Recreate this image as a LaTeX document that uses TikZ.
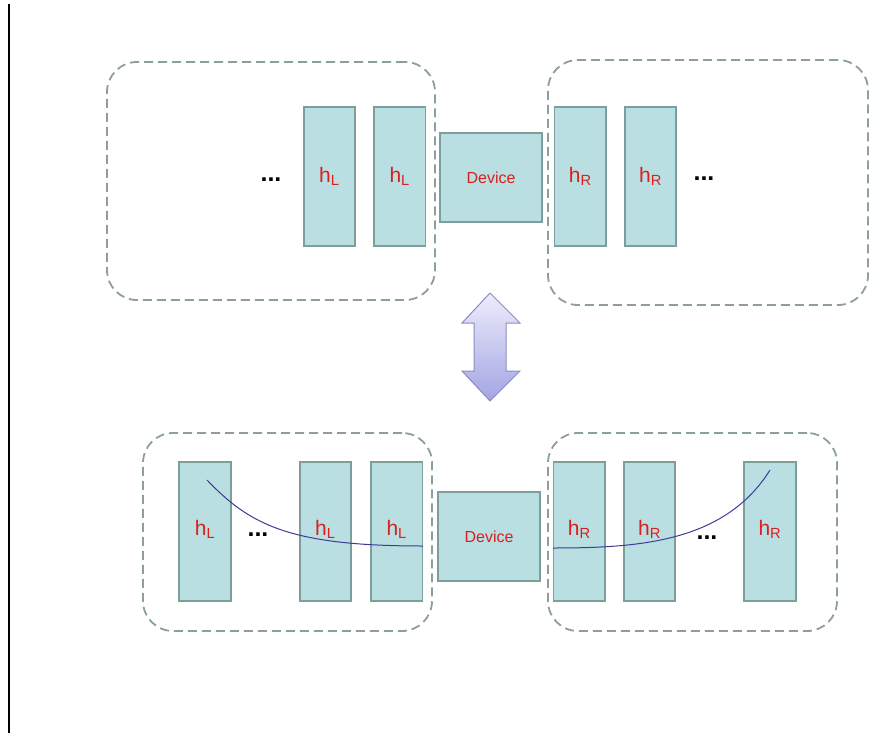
\documentclass[tikz,border=0pt]{standalone}
\usepackage{fontspec}
\setmainfont{Liberation Sans}
\usepackage{xcolor}
\usepackage{tikz}
\usetikzlibrary{positioning}
\definecolor{boxfill}{HTML}{B9DFE2}
\definecolor{boxline}{HTML}{7E9E9C}
\definecolor{grpline}{HTML}{8D9E9E}
\definecolor{labred}{HTML}{D9201E}
\definecolor{curveblue}{HTML}{3C3C96}
\definecolor{arrtop}{HTML}{EDEDFC}
\definecolor{arrbot}{HTML}{A4A4E4}
\definecolor{arrline}{HTML}{8C8CC4}
\newcommand{\labL}{h\textsubscript{L}}
\newcommand{\labR}{h\textsubscript{R}}
\tikzset{
  hbox/.style={draw=boxline, fill=boxfill, line width=1.8pt, minimum width=51.5pt, minimum height=138.5pt, inner sep=0pt, text=labred, font=\fontsize{21}{25}\selectfont},
  devbox/.style={draw=boxline, fill=boxfill, line width=1.8pt, minimum width=101.5pt, minimum height=88.5pt, inner sep=0pt, text=labred, font=\fontsize{16}{19}\selectfont},
  groupbox/.style={draw=grpline, line width=1.8pt, dash pattern=on 9pt off 5pt, rounded corners=30pt, inner sep=0pt},
  dots/.style={inner sep=0pt, font=\bfseries\fontsize{25}{28}\selectfont},
  chainline/.style={draw=curveblue, line width=1pt},
  swaparrow/.style={draw=arrline, line width=1pt, top color=arrtop, bottom color=arrbot}
}
\begin{document}
\begin{tikzpicture}[x=1pt, y=-1pt, node distance=17pt]
\useasboundingbox (0,0) rectangle (870,733);

\draw[line width=1.3pt] (9,4) -- (9,733);

% Top row
\node[groupbox, minimum width=328pt, minimum height=238pt] (tlgrp) at (271,181) {};
\node[groupbox, minimum width=320pt, minimum height=245pt] (trgrp) at (708,182.5) {};
\node[devbox] (topdev) at (491,177.5) {Device};
\node[hbox, left=13pt of topdev, yshift=1pt] (tl2) {\labL};
\node[hbox, left=of tl2] (tl1) {\labL};
\node[hbox, right=11pt of topdev, yshift=1pt] (tr1) {\labR};
\node[hbox, right=of tr1] (tr2) {\labR};
\node[dots] (tldots) at (271,180) {...};
\node[dots] (trdots) at (704,179) {...};

% Swap arrow
\draw[swaparrow] (462,323) -- (490,293) -- (520,323) -- (506,323) -- (506,371)
  -- (520,371) -- (490,401) -- (462,371) -- (474,371) -- (474,323) -- cycle;

% Bottom row
\node[groupbox, minimum width=289pt, minimum height=198pt] (blgrp) at (287.5,532) {};
\node[groupbox, minimum width=289pt, minimum height=198pt] (brgrp) at (692.5,532) {};
\node[devbox] (botdev) at (489,536.5) {Device};
\node[hbox, left=14pt of botdev, yshift=5pt] (bl3) {\raisebox{8pt}{\labL}};
\node[hbox, left=18pt of bl3] (bl2) {\raisebox{8pt}{\labL}};
\node[hbox, left=67pt of bl2] (bl1) {\raisebox{8pt}{\labL}};
\node[hbox, right=12pt of botdev, yshift=5pt] (br1) {\raisebox{8pt}{\labR}};
\node[hbox, right=of br1] (br2) {\raisebox{8pt}{\labR}};
\node[hbox, right=67pt of br2] (br3) {\raisebox{8pt}{\labR}};
\node[dots] (bldots) at (258,535) {...};
\node[dots] (brdots) at (707,538) {...};

% Curves
\coordinate (lstart) at (207,480);
\coordinate (lend) at (423,546);
\coordinate (rstart) at (553,548);
\coordinate (rend) at (770,470);
\draw[chainline] (lstart) .. controls (250,525) and (290,546) .. (lend);
\draw[chainline] (rstart) .. controls (640,548) and (725,542) .. (rend);

\end{tikzpicture}
\end{document}
